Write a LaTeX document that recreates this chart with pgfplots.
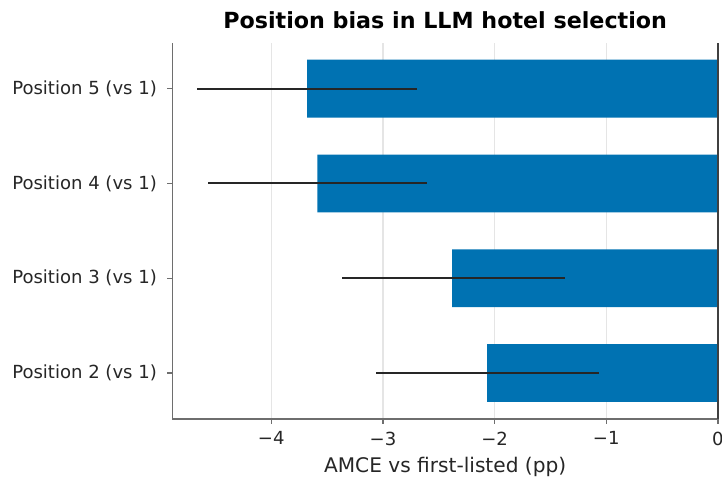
\documentclass[border=0pt]{standalone}
\usepackage{pgfplots}
\pgfplotsset{compat=1.18}
\usepackage{fontspec}
\setmainfont{DejaVu Sans}
\definecolor{barblue}{HTML}{0072B2}
\definecolor{spine}{HTML}{6E6E6E}
\definecolor{txt}{HTML}{262626}
\begin{document}
\begin{tikzpicture}[trim right={([xshift=2.9pt]ax.east)}, trim left={([xshift=-5.5pt]ax.outer west)}]
\begin{axis}[
  name=ax,
  scale only axis,
  width=393pt, height=271pt,
  xmin=-4.886, xmax=0,
  ymin=-0.485, ymax=3.485,
  axis x line*=bottom, axis y line*=left,
  axis line style={spine, line width=0.9pt},
  xtick={-4,-3,-2,-1,0},
  xticklabels={−4,−3,−2,−1,0},
  ytick={0,1,2,3},
  yticklabels={Position 2 (vs 1),Position 3 (vs 1),Position 4 (vs 1),Position 5 (vs 1)},
  tick align=outside, tick pos=left,
  major tick length=3.6pt,
  tick style={spine, line width=0.9pt},
  xmajorgrids, grid style={color=black!10, line width=0.8pt},
  ticklabel style={font=\fontsize{13}{15}\selectfont, text=txt},
  yticklabel style={xshift=-4pt},
  xticklabel style={yshift=-2pt},
  xlabel={AMCE vs first-listed (pp)},
  xlabel style={font=\fontsize{14.5}{16}\selectfont, text=txt, yshift=-2pt},
  title={\textbf{Position bias in LLM hotel selection}},
  title style={font=\fontsize{16}{18}\selectfont, yshift=0.5pt},
  clip=false,
]
\addplot[xbar, bar width=0.61, bar shift=0, fill=barblue, draw=none]
  coordinates {(-2.067,0) (-2.38,1) (-3.588,2) (-3.678,3)};
\addplot[draw=none, mark=none,
  error bars/.cd, x dir=both, x explicit, error mark=none,
  error bar style={line width=1.5pt, color=black!85}]
  coordinates {
   (-2.063,0) +- (1.0,0)
   (-2.371,1) +- (1.0,0)
   (-3.584,2) +- (0.98,0)
   (-3.684,3) +- (0.985,0)
  };
\addplot[color=black!75, line width=1.1pt] coordinates {(0,-0.485) (0,3.485)};
\end{axis}
\path (ax.outer north) ++(0,5pt);
\end{tikzpicture}
\end{document}
